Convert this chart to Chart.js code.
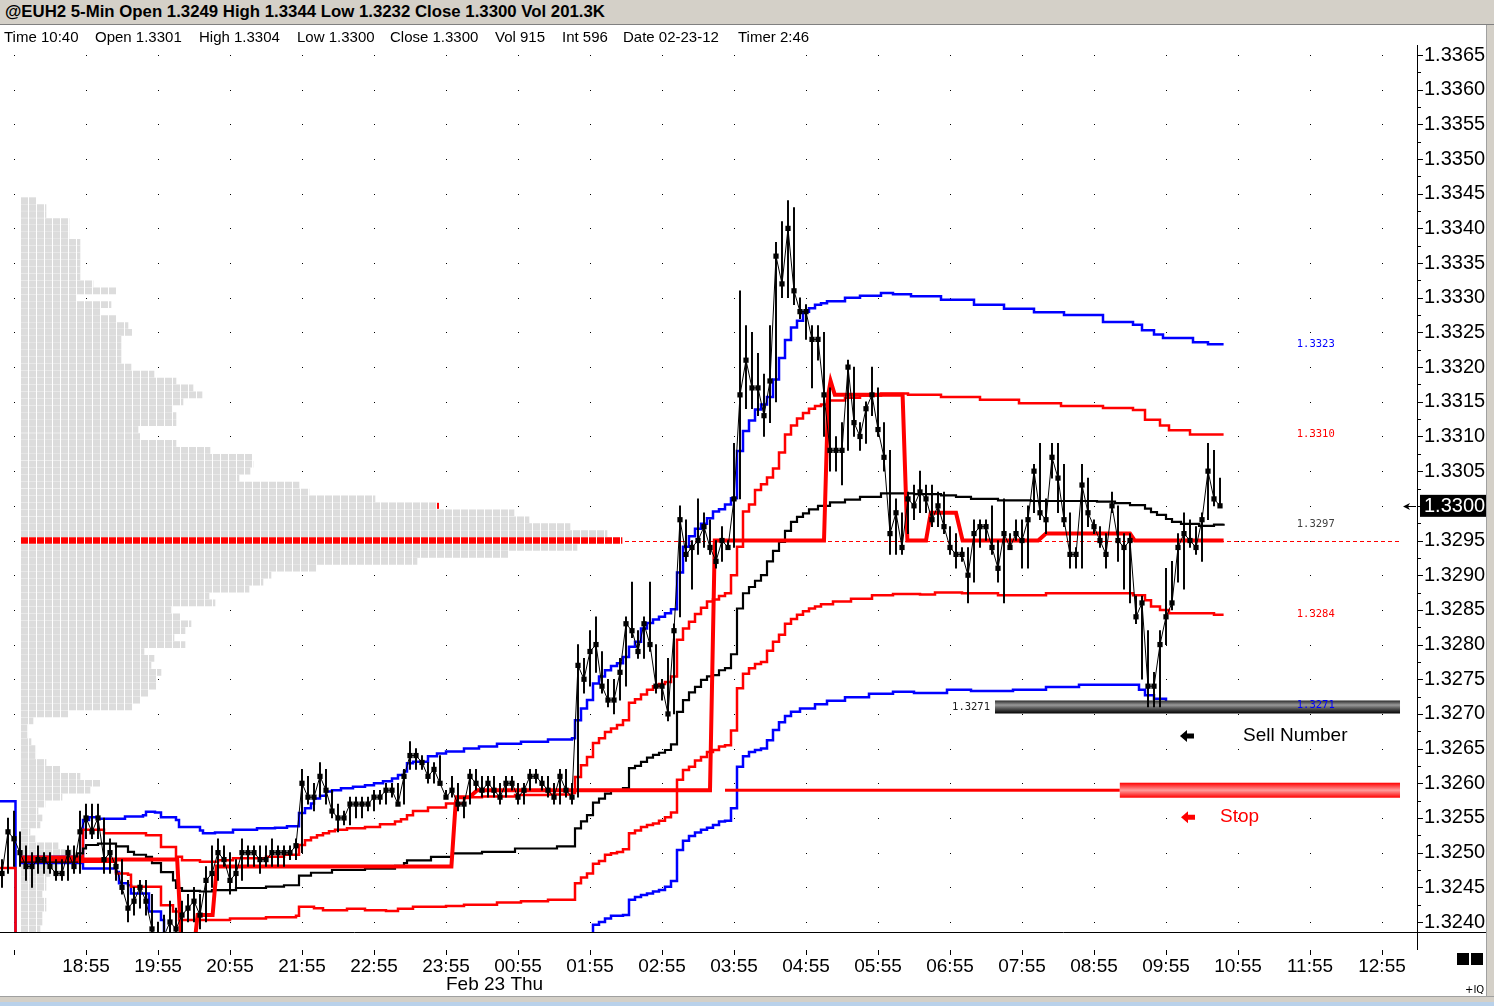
<!DOCTYPE html>
<html><head><meta charset="utf-8">
<script src="https://cdn.jsdelivr.net/npm/chart.js@4.4.1/dist/chart.umd.min.js"></script>
<style>
html,body{margin:0;padding:0;background:#fff;overflow:hidden;}
#wrap{position:relative;width:1494px;height:1006px;background:#fff;}
#c{position:absolute;left:0;top:0;}
#title{position:absolute;left:0;top:0;width:1494px;height:24px;background:#d4d0c8;border-bottom:1px solid #808080;font:bold 16.8px "Liberation Sans",Arial,sans-serif;line-height:24px;color:#000;}
#title span{position:absolute;left:5px;top:0;white-space:nowrap;}
#info{position:absolute;left:0;top:25px;width:1486px;height:22px;font:15px "Liberation Sans",Arial,sans-serif;line-height:24px;color:#000;}
#info span{position:absolute;top:0;white-space:nowrap;}
#rstrip{position:absolute;left:1486px;top:25px;width:8px;height:971px;background:#d4d0c8;border-left:1px solid #a0a0a0;box-sizing:border-box;}
#bstrip{position:absolute;left:0;top:996px;width:1494px;height:6px;background:#d4d0c8;border-top:1px solid #a0a0a0;box-sizing:border-box;}
#bstrip2{position:absolute;left:0;top:1002px;width:1494px;height:4px;background:#b9d1ea;}
.sq{position:absolute;top:953px;width:12px;height:12px;background:#000;}
#iq{position:absolute;left:1465px;top:984px;font:10px "DejaVu Sans",sans-serif;color:#000;}
</style></head>
<body><div id="wrap">
<canvas id="c" width="1494" height="1006"></canvas>
<div id="title"><span>@EUH2 5-Min Open 1.3249 High 1.3344 Low 1.3232 Close 1.3300 Vol 201.3K</span></div>
<div id="info">
<span style="left:4px">Time 10:40</span>
<span style="left:95px">Open 1.3301</span>
<span style="left:199px">High 1.3304</span>
<span style="left:297px">Low 1.3300</span>
<span style="left:390px">Close 1.3300</span>
<span style="left:495px">Vol 915</span>
<span style="left:562px">Int 596</span>
<span style="left:623px">Date 02-23-12</span>
<span style="left:738px">Timer 2:46</span>
</div>
<div id="rstrip"></div><div id="bstrip"></div><div id="bstrip2"></div>
<div class="sq" style="left:1457px"></div><div class="sq" style="left:1471px"></div>
<div id="iq">+IQ</div>
</div>
<script>
// ---------------- DATA ----------------
const timeLabels = ['18:55','19:55','20:55','21:55','22:55','23:55','00:55','01:55','02:55','03:55','04:55','05:55','06:55','07:55','08:55','09:55','10:55','11:55','12:55'];
const barsPerHour = 12;          // 5-minute bars
const firstBar = -14;            // bar index of first close (0 = 18:55)
const dateLabel = {bar: 60, text: 'Feb 23 Thu'};
const yTicks = [1.3240,1.3245,1.3250,1.3255,1.3260,1.3265,1.3270,1.3275,1.3280,1.3285,1.3290,1.3295,1.3300,1.3305,1.3310,1.3315,1.3320,1.3325,1.3330,1.3335,1.3340,1.3345,1.3350,1.3355,1.3360,1.3365];

const closes = [
 1.3247,1.3253,1.3252,1.3250,1.3248,1.3248,1.3249,1.3249,1.3248,1.3247,
 1.3247,1.3250,1.3248,1.3253,1.3255,1.3253,1.3255,1.3249,1.3250,1.3248,
 1.3245,1.3242,1.3243,1.3245,1.3243,1.3239,1.3237,1.3238,1.3240,1.3239,
 1.3241,1.3242,1.3243,1.3241,1.3246,1.3247,1.3250,1.3249,1.3246,1.3247,
 1.3250,1.3250,1.3250,1.3249,1.3249,1.3250,1.3250,1.3250,1.3250,1.3251,
 1.3260,1.3258,1.3258,1.3261,1.3259,1.3256,1.3255,1.3255,1.3257,1.3257,
 1.3257,1.3257,1.3258,1.3258,1.3259,1.3259,1.3257,1.3261,1.3264,1.3264,
 1.3263,1.3261,1.3262,1.3260,1.3258,1.3259,1.3257,1.3257,1.3261,1.3260,
 1.3259,1.3260,1.3259,1.3258,1.3260,1.3260,1.3258,1.3259,1.3261,1.3261,
 1.3260,1.3259,1.3258,1.3261,1.3259,1.3258,1.3277,1.3275,1.3279,1.3280,
 1.3274,1.3272,1.3272,1.3276,1.3283,1.3282,1.3279,1.3283,1.3280,1.3274,
 1.3274,1.3270,1.3282,1.3298,1.3293,1.3294,1.3295,1.3297,1.3294,1.3292,
 1.3295,1.3294,1.3301,1.3316,1.3321,1.3317,1.3317,1.3313,1.3318,1.3336,
 1.3332,1.3340,1.3331,1.3328,1.3328,1.3324,1.3324,1.3316,1.3308,1.3308,
 1.3308,1.3320,1.3312,1.3310,1.3314,1.3316,1.3311,1.3307,1.3296,1.3299,
 1.3294,1.3301,1.3300,1.3302,1.3301,1.3298,1.3300,1.3297,1.3294,1.3293,
 1.3293,1.3290,1.3296,1.3297,1.3297,1.3294,1.3291,1.3296,1.3294,1.3296,
 1.3295,1.3298,1.3305,1.3299,1.3298,1.3307,1.3304,1.3298,1.3293,1.3293,
 1.3303,1.3299,1.3297,1.3295,1.3293,1.3300,1.3295,1.3294,1.3295,1.3284,
 1.3286,1.3274,1.3274,1.3280,1.3284,1.3286,1.3294,1.3296,1.3295,1.3294,
 1.3298,1.3305,1.3301,1.3300
];
const highs = [
 1.3249,1.3255,1.3256,1.3253,1.3251,1.3250,1.3251,1.3250,1.3250,1.3249,
 1.3249,1.3251,1.3251,1.3256,1.3257,1.3257,1.3257,1.3255,1.3252,1.3251,
 1.3249,1.3246,1.3245,1.3246,1.3246,1.3244,1.3240,1.3241,1.3243,1.3242,
 1.3243,1.3244,1.3245,1.3244,1.3248,1.3251,1.3252,1.3251,1.3250,1.3249,
 1.3252,1.3251,1.3251,1.3251,1.3251,1.3252,1.3251,1.3251,1.3251,1.3252,
 1.3262,1.3261,1.3260,1.3263,1.3262,1.3259,1.3257,1.3256,1.3258,1.3258,
 1.3258,1.3258,1.3259,1.3259,1.3260,1.3260,1.3260,1.3262,1.3266,1.3265,
 1.3264,1.3263,1.3263,1.3264,1.3259,1.3261,1.3260,1.3258,1.3262,1.3262,
 1.3261,1.3261,1.3261,1.3260,1.3261,1.3261,1.3260,1.3260,1.3262,1.3262,
 1.3261,1.3261,1.3260,1.3262,1.3262,1.3260,1.3280,1.3278,1.3282,1.3284,
 1.3279,1.3275,1.3275,1.3278,1.3284,1.3289,1.3282,1.3284,1.3289,1.3280,
 1.3275,1.3278,1.3283,1.3300,1.3298,1.3295,1.3301,1.3299,1.3298,1.3295,
 1.3297,1.3295,1.3309,1.3331,1.3326,1.3325,1.3322,1.3319,1.3326,1.3338,
 1.3341,1.3344,1.3343,1.3330,1.3329,1.3326,1.3326,1.3325,1.3317,1.3310,
 1.3312,1.3321,1.3320,1.3312,1.3315,1.3320,1.3317,1.3312,1.3308,1.3301,
 1.3299,1.3302,1.3303,1.3305,1.3303,1.3303,1.3302,1.3302,1.3297,1.3296,
 1.3294,1.3294,1.3298,1.3298,1.3298,1.3300,1.3295,1.3301,1.3296,1.3298,
 1.3298,1.3300,1.3306,1.3309,1.3301,1.3309,1.3309,1.3306,1.3299,1.3294,
 1.3306,1.3304,1.3298,1.3297,1.3296,1.3302,1.3300,1.3296,1.3296,1.3287,
 1.3287,1.3282,1.3276,1.3282,1.3291,1.3292,1.3296,1.3299,1.3298,1.3297,
 1.3299,1.3309,1.3308,1.3304
];
const lows = [
 1.3245,1.3247,1.3248,1.3248,1.3246,1.3245,1.3247,1.3247,1.3247,1.3246,
 1.3246,1.3246,1.3247,1.3247,1.3252,1.3252,1.3252,1.3247,1.3247,1.3246,
 1.3244,1.3240,1.3241,1.3242,1.3241,1.3238,1.3235,1.3232,1.3237,1.3236,
 1.3238,1.3240,1.3240,1.3239,1.3240,1.3245,1.3246,1.3248,1.3244,1.3245,
 1.3246,1.3248,1.3248,1.3247,1.3248,1.3248,1.3248,1.3248,1.3249,1.3249,
 1.3250,1.3257,1.3256,1.3258,1.3257,1.3255,1.3253,1.3254,1.3254,1.3255,
 1.3255,1.3256,1.3256,1.3257,1.3257,1.3258,1.3257,1.3257,1.3262,1.3262,
 1.3262,1.3260,1.3260,1.3260,1.3258,1.3258,1.3256,1.3255,1.3257,1.3259,
 1.3258,1.3258,1.3258,1.3257,1.3258,1.3259,1.3257,1.3257,1.3259,1.3260,
 1.3259,1.3258,1.3257,1.3257,1.3258,1.3257,1.3258,1.3273,1.3274,1.3276,
 1.3273,1.3271,1.3270,1.3272,1.3274,1.3281,1.3278,1.3278,1.3279,1.3273,
 1.3272,1.3269,1.3270,1.3284,1.3292,1.3288,1.3293,1.3294,1.3293,1.3291,
 1.3292,1.3294,1.3294,1.3301,1.3314,1.3314,1.3313,1.3310,1.3312,1.3315,
 1.3330,1.3330,1.3329,1.3327,1.3324,1.3317,1.3321,1.3310,1.3305,1.3305,
 1.3303,1.3308,1.3310,1.3308,1.3309,1.3313,1.3310,1.3305,1.3293,1.3293,
 1.3293,1.3296,1.3298,1.3299,1.3299,1.3297,1.3297,1.3296,1.3293,1.3291,
 1.3292,1.3286,1.3289,1.3294,1.3295,1.3293,1.3289,1.3286,1.3294,1.3295,
 1.3291,1.3291,1.3299,1.3298,1.3296,1.3304,1.3299,1.3297,1.3291,1.3291,
 1.3291,1.3297,1.3296,1.3294,1.3291,1.3299,1.3292,1.3288,1.3286,1.3283,
 1.3275,1.3271,1.3271,1.3271,1.3280,1.3285,1.3289,1.3288,1.3294,1.3293,
 1.3292,1.3298,1.3300,1.3300
];

// band lines: [bar index where the level starts, price]; null = break between sessions
const vwap = [[-11,1.32487],[-1.5,1.32499],[-0.5,1.32506],[0,1.32511],[2,1.32513],[5,1.32509],[7,1.32501],[8,1.32497],[10,1.32494],[11,1.32485],[12.5,1.32472],[14.5,1.32460],[15,1.32449],[16,1.32445],[19,1.32444],[21,1.32446],[25,1.32449],[30,1.32451],[33,1.32453],[35.5,1.32467],[37.5,1.32471],[41,1.32475],[46.5,1.32477],[51.5,1.32481],[53,1.32485],[53.5,1.32489],[57.5,1.32494],[61,1.32499],[66,1.32501],[71.5,1.32506],[78.5,1.32509],[81.5,1.32535],[82.5,1.32545],[83.5,1.32554],[84.5,1.32572],[85.5,1.32578],[86.5,1.32585],[87.5,1.32590],[89.5,1.32593],[90.5,1.32622],[91.5,1.32625],[92.5,1.32631],[93.5,1.32637],[94.5,1.32641],[95.5,1.32644],[96.5,1.32648],[97.5,1.32656],[98.5,1.32703],[99.5,1.32720],[100.5,1.32731],[101.5,1.32739],[102.5,1.32749],[103.5,1.32754],[104.5,1.32756],[105.5,1.32763],[106.5,1.32766],[107.5,1.32786],[108.5,1.32852],[109.5,1.32874],[110.5,1.32883],[111.5,1.32892],[112.5,1.32900],[113.5,1.32920],[114.5,1.32935],[115.5,1.32948],[116.5,1.32964],[117.5,1.32977],[118.5,1.32984],[119.5,1.32989],[120.5,1.32995],[122,1.33000],[124,1.33005],[126.5,1.33009],[129,1.33013],[132.5,1.33018],[138,1.33017],[142.5,1.33015],[145,1.33013],[147.5,1.33010],[152,1.33008],[157.5,1.33007],[168.5,1.33006],[171.5,1.33004],[174,1.33001],[176.5,1.32996],[177.5,1.32991],[178.5,1.32987],[180,1.32981],[181,1.32977],[182.5,1.32974],[185.5,1.32971],[188,1.32973],[189.6,1.32974]];
const upperBand1 = [[-14.4,1.32478],[-11.75,1.3222],null,[-11,1.32494],[-0.5,1.32533],[3,1.32528],[10,1.32525],[12.5,1.32508],[15,1.32494],[16,1.32489],[19,1.32487],[22,1.32489],[24.5,1.32492],[30,1.32494],[33,1.32497],[35.5,1.32511],[36.5,1.32518],[37.5,1.32522],[38.5,1.32525],[39.5,1.32528],[40.5,1.32531],[41.5,1.32533],[43.5,1.32535],[46.5,1.32537],[49,1.32541],[51.5,1.32545],[52.5,1.32548],[53.5,1.32554],[54.5,1.32560],[57,1.32565],[60,1.32571],[63,1.32580],[66,1.32581],[71.5,1.32583],[77,1.32584],[81,1.32586],[81.5,1.32609],[82.5,1.32626],[83.5,1.32638],[84.5,1.32658],[85.5,1.32665],[86.5,1.32674],[87.5,1.32679],[88.5,1.32684],[89.5,1.32691],[90.5,1.32716],[91.5,1.32721],[92.5,1.32728],[93.5,1.32735],[94.5,1.32740],[95.5,1.32743],[96.5,1.32746],[97.5,1.32754],[98.5,1.32807],[99.5,1.32823],[100.5,1.32833],[101.5,1.32844],[102.5,1.32853],[103.5,1.32862],[104.5,1.32865],[105.5,1.32870],[106.5,1.32874],[107.5,1.32900],[108.5,1.32941],[109.5,1.32992],[110.5,1.33002],[111.5,1.33023],[112.5,1.33031],[113.5,1.33041],[114.5,1.33054],[115.5,1.33077],[116.5,1.33103],[117.5,1.33116],[118.5,1.33126],[119.5,1.33134],[120.5,1.33140],[121.5,1.33144],[122.5,1.33146],[123.5,1.33152],[126.5,1.33156],[129,1.33159],[132.5,1.33162],[137,1.33160],[142.5,1.33157],[149,1.33153],[155.5,1.33148],[162.5,1.33144],[169.5,1.33141],[174.5,1.33138],[176.5,1.33124],[179,1.33116],[180.5,1.33109],[184,1.33103],[189.6,1.33103]];
const lowerBand1 = [[-11,1.32487],[5,1.32470],[7,1.32468],[7.5,1.32451],[12.5,1.32424],[14.5,1.32415],[15.5,1.32403],[24,1.32405],[30,1.32407],[35,1.32409],[35.5,1.32422],[38,1.32420],[39.5,1.32417],[43.5,1.32419],[46.5,1.32417],[50,1.32416],[52,1.32419],[54.5,1.32422],[60,1.32423],[63,1.32425],[68.5,1.32428],[72.5,1.32430],[77,1.32432],[81.5,1.32456],[82.5,1.32464],[83.5,1.32470],[84.5,1.32484],[85.5,1.32488],[86.5,1.32497],[87.5,1.32499],[88.5,1.32501],[89.5,1.32505],[90.5,1.32528],[91.5,1.32532],[92.5,1.32537],[93.5,1.32540],[94.5,1.32542],[95.5,1.32546],[96.5,1.32551],[97.5,1.32558],[98.5,1.32605],[99.5,1.32619],[100.5,1.32624],[101.5,1.32633],[102.5,1.32638],[103.5,1.32645],[104.5,1.32648],[105.5,1.32653],[106.5,1.32655],[107.5,1.32676],[108.5,1.32737],[109.5,1.32758],[110.5,1.32766],[111.5,1.32772],[112.5,1.32775],[113.5,1.32791],[114.5,1.32804],[115.5,1.32814],[116.5,1.32830],[117.5,1.32837],[118.5,1.32843],[119.5,1.32848],[120.5,1.32852],[121.5,1.32855],[122.5,1.32858],[124.5,1.32862],[127.5,1.32866],[131,1.32871],[134.5,1.32873],[139,1.32872],[141.5,1.32875],[146,1.32874],[152,1.32871],[160,1.32874],[174.5,1.32871],[176.5,1.32864],[177.5,1.32855],[179,1.32850],[180.5,1.32845],[188,1.32843],[189.6,1.32843]];
const upperBand2 = [[-14.4,1.32574],[-11.75,1.3222],null,[-11,1.32494],[-0.5,1.32547],[0.5,1.32551],[2,1.32549],[6.5,1.32552],[9.5,1.32554],[10,1.32559],[11.5,1.32558],[12.5,1.32551],[15,1.32547],[15.5,1.32537],[19,1.32532],[19.5,1.32528],[21.5,1.32529],[24.5,1.32533],[28.5,1.32535],[31.5,1.32536],[33.5,1.32538],[35.5,1.32557],[36.5,1.32564],[37.5,1.32571],[38,1.32578],[39,1.32582],[40,1.32588],[41,1.32590],[42.5,1.32593],[44.5,1.32595],[46.5,1.32597],[48,1.32600],[49.5,1.32603],[51,1.32607],[52,1.32612],[53,1.32617],[53.5,1.32629],[54.5,1.32631],[57,1.32639],[58.5,1.32643],[60,1.32646],[63,1.32650],[65.5,1.32653],[68.5,1.32657],[72.5,1.32660],[77,1.32663],[81,1.32665],[81.5,1.32691],[82.5,1.32708],[83.5,1.32720],[84.5,1.32744],[85.5,1.32754],[86.5,1.32763],[87.5,1.32769],[88.5,1.32773],[89.5,1.32782],[90.5,1.32797],[91.5,1.32804],[92.5,1.32823],[93.5,1.32831],[94.5,1.32836],[95.5,1.32840],[96.5,1.32845],[97.5,1.32851],[98.5,1.32904],[99.5,1.32941],[100.5,1.32956],[101.5,1.32967],[102.5,1.32974],[103.5,1.32982],[104.5,1.32992],[105.5,1.32995],[106.5,1.33002],[107.5,1.33011],[108.5,1.33079],[109.5,1.33108],[110.5,1.33123],[111.5,1.33139],[112.5,1.33146],[113.5,1.33157],[114.5,1.33182],[115.5,1.33213],[116.5,1.33239],[117.5,1.33257],[118.5,1.33267],[119.5,1.33280],[120.5,1.33285],[121.5,1.33290],[122.5,1.33292],[123.5,1.33295],[126.5,1.33300],[129,1.33303],[132.5,1.33307],[134.5,1.33305],[137.5,1.33302],[142.5,1.33297],[148,1.33290],[153,1.33284],[158,1.33279],[163,1.33275],[169.5,1.33265],[174.5,1.33261],[176,1.33253],[178,1.33247],[179.5,1.33242],[184.5,1.33236],[187,1.33233],[189.6,1.33233]];
const lowerBand2 = [[-11,1.32485],[-0.5,1.32477],[5,1.32472],[5.5,1.32456],[7,1.32453],[7.5,1.32441],[10.5,1.32415],[12.5,1.32403],[13,1.32365],[35.5,1.32360],[81.5,1.32375],[84.5,1.32396],[85.5,1.32400],[86.5,1.32405],[87.5,1.32409],[89.5,1.32410],[90.5,1.32432],[91.5,1.32436],[92.5,1.32439],[93.5,1.32441],[94.5,1.32444],[95.5,1.32446],[96.5,1.32451],[97.5,1.32459],[98.5,1.32504],[99.5,1.32517],[100.5,1.32524],[101.5,1.32529],[102.5,1.32533],[103.5,1.32536],[104.5,1.32540],[105.5,1.32545],[106.5,1.32546],[107.5,1.32564],[108.5,1.32624],[109.5,1.32639],[110.5,1.32645],[111.5,1.32648],[112.5,1.32650],[113.5,1.32662],[114.5,1.32677],[115.5,1.32688],[116.5,1.32697],[117.5,1.32703],[119,1.32708],[121.5,1.32714],[123.5,1.32719],[126.5,1.32724],[130.5,1.32729],[134.5,1.32732],[138,1.32730],[143.5,1.32735],[147.5,1.32733],[154.5,1.32735],[160,1.32739],[165.5,1.32742],[175.5,1.32735],[176.5,1.32727],[178,1.32722],[180,1.32717],[184,1.32714],[189.6,1.32713]];
// developing point of control (drawn as a connected line)
const devPoc = [[-10.9,1.3249],[15.2,1.3249],[15.9,1.3237],[18.1,1.3237],[18.6,1.3241],[21.1,1.3241],[21.8,1.3248],[60.9,1.3248],[61.6,1.3257],[61.8,1.3258],[63.9,1.3258],[65.2,1.3259],[104.0,1.3259],[104.8,1.3295],[123.0,1.3295],[123.7,1.3316],[124.1,1.3318],[124.8,1.3316],[136.1,1.3316],[136.9,1.3295],[140.0,1.3295],[140.8,1.3299],[145.0,1.3299],[146.1,1.3295],[158.7,1.3295],[160.0,1.3296],[174.0,1.3296],[174.8,1.3295],[189.6,1.3295]];

// session volume profile
const profilePrice = [1.3344,1.3343,1.3342,1.3341,1.3340,1.3339,1.3338,1.3337,1.3336,1.3335,1.3334,1.3333,1.3332,1.3331,1.3330,1.3329,1.3328,1.3327,1.3326,1.3325,1.3324,1.3323,1.3322,1.3321,1.3320,1.3319,1.3318,1.3317,1.3316,1.3315,1.3314,1.3313,1.3312,1.3311,1.3310,1.3309,1.3308,1.3307,1.3306,1.3305,1.3304,1.3303,1.3302,1.3301,1.3300,1.3299,1.3298,1.3297,1.3296,1.3295,1.3294,1.3293,1.3292,1.3291,1.3290,1.3289,1.3288,1.3287,1.3286,1.3285,1.3284,1.3283,1.3282,1.3281,1.3280,1.3279,1.3278,1.3277,1.3276,1.3275,1.3274,1.3273,1.3272,1.3271,1.3270,1.3269,1.3268,1.3267,1.3266,1.3265,1.3264,1.3263,1.3262,1.3261,1.3260,1.3259,1.3258,1.3257,1.3256,1.3255,1.3254,1.3253,1.3252,1.3251,1.3250,1.3249,1.3248,1.3247,1.3246,1.3245,1.3244,1.3243,1.3242,1.3241,1.3240,1.3239];
const profileVol = [15,25,25,48,48,48,59,59,59,59,59,59,72,95,55,90,79,95,107,111,100,100,100,100,110,133,155,172,181,162,151,155,155,117,119,155,189,231,232,229,218,278,288,354,416,493,508,549,586,601,556,487,396,295,250,242,228,188,194,150,159,170,164,153,164,123,133,130,140,135,135,127,119,111,47,12,6,6,10,14,14,25,39,59,79,69,41,24,17,21,19,9,14,37,51,43,37,29,25,25,21,25,25,21,21,19];

const sellNumber = 1.3271, stopLevel = 1.3259;
const sellFromBar = 151.5, stopFromBar = 172.3, stopLineFromBar = 106.5, levelsEndBar = 219;

// ---------------- CHART ----------------
const canvas = document.getElementById('c');
const c2d = canvas.getContext('2d');
function blockPattern(color) {
  const t = document.createElement('canvas'); t.width = 8; t.height = 8;
  const g = t.getContext('2d');
  g.fillStyle = '#ffffff'; g.fillRect(0, 0, 8, 8);
  g.fillStyle = color; g.fillRect(0, 0, 7, 8);
  const p = c2d.createPattern(t, 'repeat');
  try { p.setTransform(new DOMMatrix([1, 0, 0, 1, 5, 0])); } catch (e) {}
  return p;
}
const grayPat = blockPattern('#dcdcdc'), redPat = blockPattern('#ff0000');
const pocIdx = profileVol.indexOf(Math.max(...profileVol));
const lastClose = closes[closes.length - 1];
const lastProfileIdx = profilePrice.findIndex(p => Math.abs(p - lastClose) < 1e-9);

const toXY = arr => arr.map(p => p === null ? {x: NaN, y: null} : {x: p[0], y: p[1]});
const F = '"Liberation Sans", Arial, sans-serif';
const MONO = '"DejaVu Sans Mono", "Liberation Mono", monospace';

function arrowLeft(ctx, xTip, yc, color) {
  ctx.fillStyle = color;
  ctx.beginPath();
  ctx.moveTo(xTip, yc); ctx.lineTo(xTip + 7, yc - 6); ctx.lineTo(xTip + 7, yc - 2.5);
  ctx.lineTo(xTip + 14, yc - 2.5); ctx.lineTo(xTip + 14, yc + 2.5); ctx.lineTo(xTip + 7, yc + 2.5);
  ctx.lineTo(xTip + 7, yc + 6); ctx.closePath(); ctx.fill();
}

const HL_INDEX = 6;
const annot = {
  id: 'annot',
  beforeDatasetsDraw(chart) {
    const {ctx, scales: {x, y, xv}} = chart;
    ctx.save();
    ctx.fillStyle = '#000';
    for (let b = -barsPerHour; b <= x.max; b += barsPerHour) {
      const px = Math.round(x.getPixelForValue(b));
      yTicks.forEach(v => ctx.fillRect(px, Math.round(y.getPixelForValue(v)), 1, 1));
    }
    const py = Math.round(y.getPixelForValue(profilePrice[pocIdx])) + 0.5;
    ctx.strokeStyle = '#ff0000'; ctx.lineWidth = 1; ctx.setLineDash([4, 3]);
    ctx.beginPath(); ctx.moveTo(xv.getPixelForValue(profileVol[pocIdx]) + 3, py);
    ctx.lineTo(x.getPixelForValue(levelsEndBar), py); ctx.stroke();
    ctx.restore();
  },
  beforeDatasetDraw(chart, args) {
    if (args.index !== HL_INDEX) return;
    const {ctx, chartArea: a, scales: {x, y}} = chart;
    ctx.save();
    ctx.beginPath(); ctx.rect(a.left, a.top, a.right - a.left, a.bottom - a.top); ctx.clip();
    const xe = x.getPixelForValue(levelsEndBar);
    const ys = y.getPixelForValue(stopLevel);
    ctx.fillStyle = '#ff0000';
    ctx.fillRect(x.getPixelForValue(stopLineFromBar), ys - 1.5, x.getPixelForValue(stopFromBar) - x.getPixelForValue(stopLineFromBar), 3);
    let g = ctx.createLinearGradient(0, ys - 7.5, 0, ys + 7.5);
    g.addColorStop(0, '#ff0000'); g.addColorStop(0.5, '#ff9c9c'); g.addColorStop(1, '#ff0000');
    ctx.fillStyle = g;
    ctx.fillRect(x.getPixelForValue(stopFromBar), ys - 7.5, xe - x.getPixelForValue(stopFromBar), 15);
    const yb = y.getPixelForValue(sellNumber);
    g = ctx.createLinearGradient(0, yb - 6.5, 0, yb + 6.5);
    g.addColorStop(0, '#2a2a2a'); g.addColorStop(0.35, '#9a9a9a'); g.addColorStop(0.6, '#5a5a5a'); g.addColorStop(1, '#000000');
    ctx.fillStyle = g;
    ctx.fillRect(x.getPixelForValue(sellFromBar), yb - 6.5, xe - x.getPixelForValue(sellFromBar), 13);
    ctx.restore();
  },
  afterDatasetsDraw(chart) {
    const {ctx, scales: {x, y, xv}} = chart;
    ctx.save();
    if (lastProfileIdx >= 0) {
      ctx.fillStyle = '#ff0000';
      ctx.fillRect(xv.getPixelForValue(profileVol[lastProfileIdx]), y.getPixelForValue(lastClose) - 3, 2, 6);
    }
    ctx.font = '10.5px ' + MONO; ctx.textBaseline = 'middle'; ctx.textAlign = 'left';
    const lx = x.getPixelForValue(201.8);
    const lastOf = arr => arr[arr.length - 1][1];
    [[upperBand2, '#0000ff'], [upperBand1, '#ff0000'], [vwap, '#404040'], [lowerBand1, '#ff0000'], [lowerBand2, '#0000ff']].forEach(([arr, col]) => {
      const v = lastOf(arr);
      ctx.fillStyle = col; ctx.fillText(v.toFixed(4), lx, y.getPixelForValue(v));
    });
    ctx.fillStyle = '#202020'; ctx.textAlign = 'right';
    ctx.fillText(sellNumber.toFixed(4), x.getPixelForValue(sellFromBar) - 5, y.getPixelForValue(sellNumber));
    ctx.textAlign = 'left'; ctx.font = '19px ' + F;
    const yS = y.getPixelForValue(sellNumber) + 29, yT = y.getPixelForValue(stopLevel) + 27;
    arrowLeft(ctx, x.getPixelForValue(182.33), yS, '#000');
    ctx.fillStyle = '#000'; ctx.fillText('Sell Number', x.getPixelForValue(192.83), yS);
    arrowLeft(ctx, x.getPixelForValue(182.5), yT, '#ff0000');
    ctx.fillStyle = '#ff0000'; ctx.fillText('Stop', x.getPixelForValue(189), yT);
    ctx.restore();
  },
  afterDraw(chart) {
    const {ctx, chartArea: a, scales: {x, y}} = chart;
    ctx.save();
    ctx.fillStyle = '#000';
    ctx.fillRect(Math.round(a.right), Math.round(a.bottom), 1, 18);
    ctx.fillRect(Math.round(a.right), Math.round(a.bottom), 69, 1);
    yTicks.forEach((v, k) => {
      const py = Math.round(y.getPixelForValue(v));
      ctx.fillRect(Math.round(a.right) + 1, py, 5, 1);
      if (k < yTicks.length - 1) {
        const pm = Math.round(y.getPixelForValue((v + yTicks[k + 1]) / 2));
        ctx.fillRect(Math.round(a.right) + 1, pm, 3, 1);
      }
    });
    for (let b = -barsPerHour; b <= x.max; b += barsPerHour) {
      ctx.fillRect(Math.round(x.getPixelForValue(b)), Math.round(a.bottom) + 18, 1, 5);
    }
    ctx.font = '19px ' + F; ctx.textBaseline = 'middle'; ctx.textAlign = 'left';
    ctx.fillText(dateLabel.text, x.getPixelForValue(dateLabel.bar), a.bottom + 53);
    const yp = y.getPixelForValue(lastClose);
    ctx.fillStyle = '#000';
    ctx.fillRect(a.right + 3, yp - 11, 66, 22);
    ctx.fillStyle = '#fff'; ctx.font = '20px ' + F;
    ctx.fillText(lastClose.toFixed(4), a.right + 7, yp + 1);
    ctx.fillStyle = '#000';
    ctx.fillRect(a.right - 12, Math.round(yp), 11, 1);
    ctx.beginPath(); ctx.moveTo(a.right - 14, Math.round(yp) + 0.5); ctx.lineTo(a.right - 7, Math.round(yp) - 3); ctx.lineTo(a.right - 9, Math.round(yp) + 0.5); ctx.lineTo(a.right - 7, Math.round(yp) + 4); ctx.closePath(); ctx.fill();
    ctx.restore();
  }
};

const lineDs = (label, arr, color, width, order, stepped) => ({
  type: 'line', label, data: toXY(arr), borderColor: color, borderWidth: width,
  pointRadius: 0, stepped, tension: 0, fill: false, order, spanGaps: false
});

new Chart(canvas, {
  type: 'line',
  data: {
    datasets: [
      {type: 'bar', label: 'Profile', indexAxis: 'y', xAxisID: 'xv', yAxisID: 'y',
       data: profilePrice.map((p, k) => ({x: profileVol[k], y: p})),
       backgroundColor: profilePrice.map((p, k) => k === pocIdx ? redPat : grayPat),
       barThickness: 6, grouped: false, borderWidth: 0, order: 100},
      lineDs('Upper 2', upperBand2, '#0000ff', 2.5, 60, true),
      lineDs('Lower 2', lowerBand2, '#0000ff', 2.5, 59, true),
      lineDs('Upper 1', upperBand1, '#ff0000', 2.5, 50, true),
      lineDs('Lower 1', lowerBand1, '#ff0000', 2.5, 49, true),
      lineDs('VWAP', vwap, '#000000', 2.2, 40, true),
      {type: 'bar', label: 'HL', xAxisID: 'x', yAxisID: 'y',
       data: closes.map((c, k) => ({x: firstBar + k, y: [lows[k], highs[k]]})),
       backgroundColor: '#000', barThickness: 1.3, grouped: false, borderWidth: 0, order: 20},
      lineDs('Dev POC', devPoc, '#ff0000', 4, 30, false),
      {type: 'line', label: 'Close', data: closes.map((c, k) => ({x: firstBar + k, y: c})),
       borderColor: '#000', borderWidth: 1, tension: 0, pointStyle: 'rect', pointRadius: 3.7,
       pointBackgroundColor: '#000', pointBorderWidth: 0, order: 5}
    ]
  },
  options: {
    responsive: false, animation: false, events: [],
    layout: {autoPadding: false, padding: {top: 45, left: 0, right: 0, bottom: 0}},
    plugins: {legend: {display: false}, tooltip: {enabled: false}},
    scales: {
      x: {type: 'linear', offset: false, min: -14.333, max: 221.833,
          afterBuildTicks: s => { s.ticks = timeLabels.map((t, k) => ({value: k * barsPerHour})); },
          afterFit: s => { s.height = 74; s.paddingLeft = 0; s.paddingRight = 0; },
          grid: {display: false, drawTicks: false, offset: false},
          border: {display: true, color: '#000', width: 1},
          ticks: {autoSkip: false, maxRotation: 0, padding: 23, color: '#000', font: {family: F, size: 19},
                  callback: (v, k) => timeLabels[k]}},
      xv: {type: 'linear', offset: false, display: false, min: -21, max: 1396},
      y: {type: 'linear', offset: false, position: 'right', min: 1.323856, max: 1.336644,
          afterBuildTicks: s => { s.ticks = yTicks.map(v => ({value: v})); },
          afterFit: s => { s.width = 77; s.paddingTop = 0; s.paddingBottom = 0; },
          grid: {display: false, drawTicks: false, offset: false},
          border: {display: true, color: '#000', width: 1},
          ticks: {autoSkip: false, padding: 7, color: '#000', font: {family: F, size: 20},
                  callback: v => v.toFixed(4)}}
    }
  },
  plugins: [annot]
});
</script>
</body></html>
